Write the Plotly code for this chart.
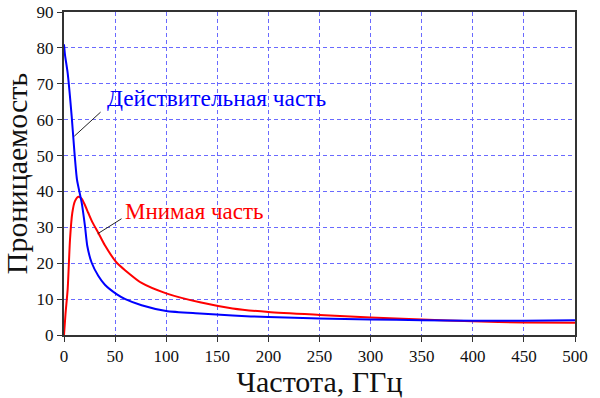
import plotly.graph_objects as go

# Data
freq_real = [0, 1, 3.6, 7.5, 10, 12.7, 17.3, 20.5, 22.8, 27, 33.5, 40, 51.4, 60, 75.9, 100, 133, 165, 200, 250, 300, 350, 400, 450, 500]
eps_real = [81, 78, 73, 61, 51.7, 43.3, 36.9, 30.4, 24.8, 20.2, 16.5, 14.0, 11.4, 10.0, 8.3, 6.7, 6.0, 5.4, 5.0, 4.6, 4.35, 4.1, 3.95, 4.0, 4.1]

freq_imag = [0, 1.5, 3.6, 5.9, 8.1, 10.7, 14, 17.3, 20, 23.8, 28, 33.5, 40, 51.4, 60, 75.9, 100, 133, 165, 200, 250, 300, 350, 400, 450, 500]
eps_imag = [0, 6, 12.8, 26.7, 34, 37.3, 38.5, 38.0, 36.5, 34, 31.3, 28.5, 25.0, 20.2, 18.0, 14.5, 11.6, 9.1, 7.4, 6.4, 5.6, 4.9, 4.3, 3.8, 3.5, 3.4]

x_ticks = [0, 50, 100, 150, 200, 250, 300, 350, 400, 450, 500]
y_ticks = [0, 10, 20, 30, 40, 50, 60, 70, 80, 90]

label_real = "Действительная часть"
label_imag = "Мнимая часть"
x_title = "Частота, ГГц"
y_title = "Проницаемость"

FONT = "Liberation Serif"

fig = go.Figure()
fig.add_trace(go.Scatter(x=freq_imag, y=eps_imag, mode="lines",
                         line=dict(color="#ff0000", width=2, shape="spline", smoothing=0.6),
                         showlegend=False, hoverinfo="skip"))
fig.add_trace(go.Scatter(x=freq_real, y=eps_real, mode="lines",
                         line=dict(color="#0000ff", width=2, shape="spline", smoothing=0.6),
                         showlegend=False, hoverinfo="skip"))

# leader lines
fig.add_shape(type="line", x0=10.1, y0=55.4, x1=35.8, y1=62.1, xref="x", yref="y",
              line=dict(color="#222222", width=1))
fig.add_shape(type="line", x0=32.9, y0=28.2, x1=56.3, y1=32.4, xref="x", yref="y",
              line=dict(color="#222222", width=1))

fig.add_annotation(x=40, y=65.9, xref="x", yref="y", text=label_real, showarrow=False,
                   xanchor="left", yanchor="middle",
                   font=dict(family=FONT, size=23.4, color="#0000ff"))
fig.add_annotation(x=57.6, y=34.4, xref="x", yref="y", text=label_imag, showarrow=False,
                   xanchor="left", yanchor="middle",
                   font=dict(family=FONT, size=23, color="#ff0000"))

axis_common = dict(
    showgrid=True, gridcolor="#6a6aff", griddash="4px,3px", gridwidth=1,
    showline=True, linecolor="#333333", linewidth=2, mirror=True,
    ticks="outside", ticklen=5, tickcolor="#333333", tickwidth=1,
    zeroline=False, automargin=False, ticklabeloverflow="allow",
)

fig.update_xaxes(range=[0, 500], tickvals=x_ticks, ticktext=[str(v) for v in x_ticks],
                 tickfont=dict(family=FONT, size=17, color="#111111"),
                 title=dict(text=x_title, font=dict(family=FONT, size=30, color="#111111"), standoff=2),
                 **axis_common)
fig.update_yaxes(range=[0, 90], tickvals=y_ticks, ticktext=[str(v) for v in y_ticks],
                 tickfont=dict(family=FONT, size=17, color="#111111"),
                 title=dict(text=y_title, font=dict(family=FONT, size=30, color="#111111"), standoff=4),
                 **axis_common)

fig.update_layout(width=600, height=398, margin=dict(l=64, r=25, t=12, b=63, autoexpand=False),
                  font=dict(family=FONT),
                  plot_bgcolor="white", paper_bgcolor="white", showlegend=False)

fig.write_html("out.html", config={"displayModeBar": False},
               post_script="document.body.style.margin='0';")
